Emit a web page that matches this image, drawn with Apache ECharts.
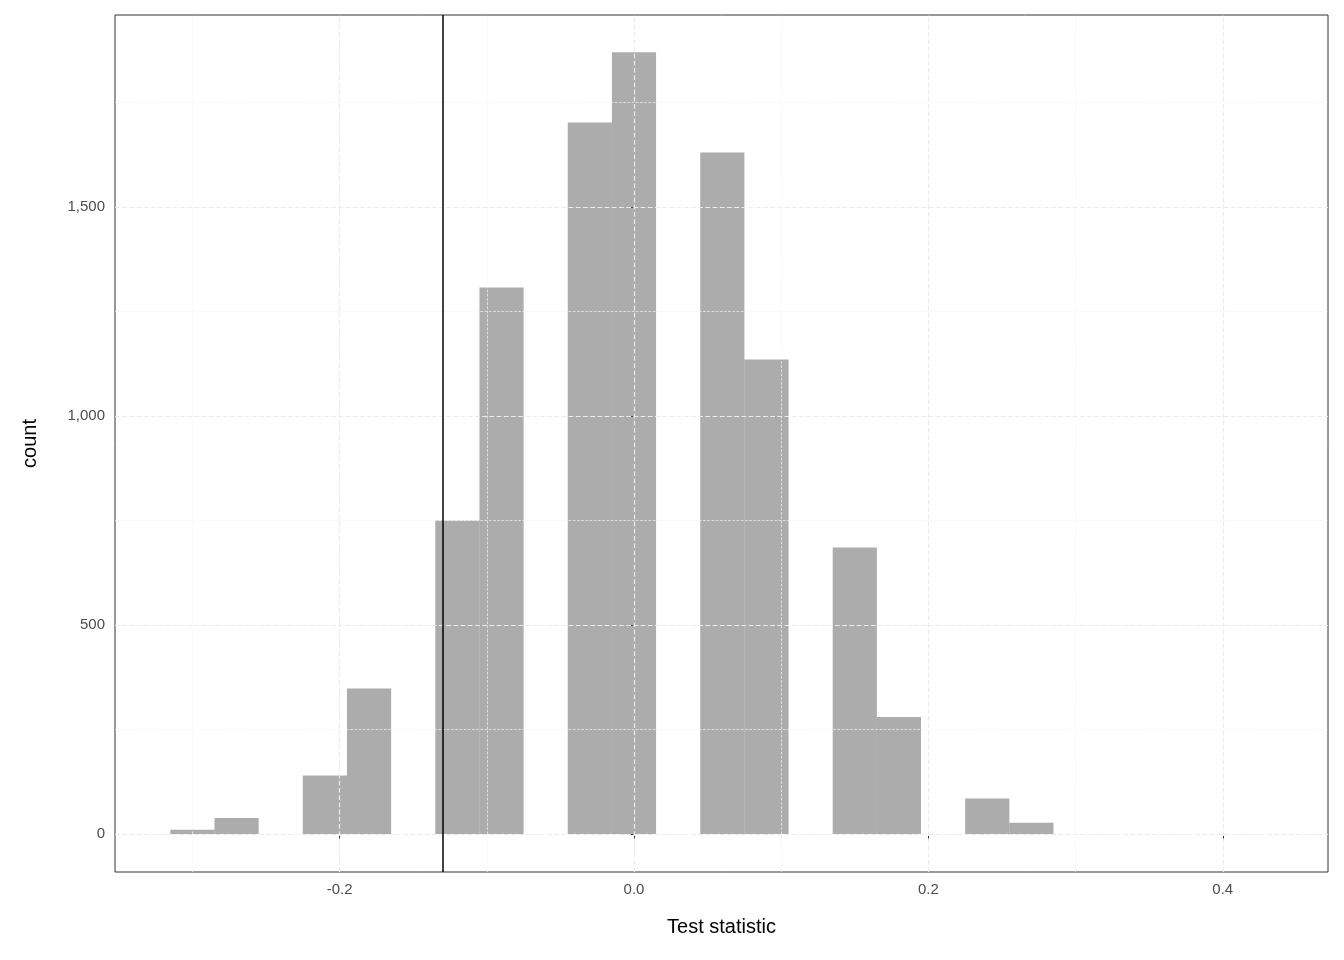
<!DOCTYPE html>
<html><head><meta charset="utf-8">
<script src="https://cdn.jsdelivr.net/npm/echarts@6/dist/echarts.min.js"></script>
<style>html,body{margin:0;padding:0;background:#fff}#c{width:1344px;height:960px}</style>
</head><body><div id="c"></div>
<script>
const binStarts = [-0.315,-0.285,-0.225,-0.195,-0.135,-0.105,-0.045,-0.015,0.045,0.075,0.135,0.165,0.225,0.255];
const counts    = [10,38,140,348,750,1307,1702,1870,1630,1135,685,280,85,27];
const binWidth = 0.03;
const observed = -0.131;
const xTicks = [-0.2,0.0,0.2,0.4];
const xMinor = [-0.3,-0.1,0.1,0.3];
const yTicks = [0,500,1000,1500];
const yMinor = [250,750,1250,1750];

const chart = echarts.init(document.getElementById('c'));
const gridLines = [];
xMinor.forEach(v=>gridLines.push({xAxis:v,lineStyle:{color:'#f3f3f3',width:0.7}}));
yMinor.forEach(v=>gridLines.push({yAxis:v,lineStyle:{color:'#f3f3f3',width:0.7}}));
xTicks.forEach(v=>gridLines.push({xAxis:v,lineStyle:{color:'#ebebeb',width:1.2}}));
yTicks.forEach(v=>gridLines.push({yAxis:v,lineStyle:{color:'#ebebeb',width:1.2}}));

const tickLbl = {color:'#4d4d4d',fontSize:15,fontFamily:'Liberation Sans, Arial'};
chart.setOption({
  animation:false,
  grid:{left:115,right:16,top:15,bottom:88,show:true,borderColor:'#333',borderWidth:1},
  xAxis:{type:'value',min:-0.3526,max:0.4715,
    name:'Test statistic',nameLocation:'middle',nameGap:45,
    nameTextStyle:{color:'#000',fontSize:20,fontFamily:'Liberation Sans, Arial'},
    axisLine:{show:false},splitLine:{show:false},
    axisTick:{show:true,customValues:xTicks,length:5,lineStyle:{color:'#333'}},
    axisLabel:{...tickLbl,customValues:xTicks,margin:10,formatter:v=>v.toFixed(1)}},
  yAxis:{type:'value',min:-91,max:1959,
    name:'count',nameLocation:'middle',nameGap:75,
    nameTextStyle:{color:'#000',fontSize:20,fontFamily:'Liberation Sans, Arial'},
    axisLine:{show:false},splitLine:{show:false},
    axisTick:{show:true,customValues:yTicks,length:5,lineStyle:{color:'#333'}},
    axisLabel:{...tickLbl,customValues:yTicks,margin:10}},
  series:[
    {type:'line',data:[],silent:true,markLine:{silent:true,symbol:'none',label:{show:false},data:gridLines}},
    {type:'custom',silent:true,
     data:binStarts.map((s,i)=>[s,s+binWidth,counts[i]]),
     encode:{x:[0,1],y:2},
     renderItem:(params,api)=>{
       const p0=api.coord([api.value(0),api.value(2)]);
       const p1=api.coord([api.value(1),0]);
       return {type:'rect',shape:{x:p0[0],y:p0[1],width:p1[0]-p0[0],height:p1[1]-p0[1]},
         style:{fill:'rgba(89,89,89,0.5)'}};
     }},
    {type:'line',data:[],silent:true,markLine:{silent:true,symbol:'none',label:{show:false},
      data:[{xAxis:observed,lineStyle:{color:'#000',width:1.5,type:'solid'}}]}}
  ]
});
</script></body></html>
